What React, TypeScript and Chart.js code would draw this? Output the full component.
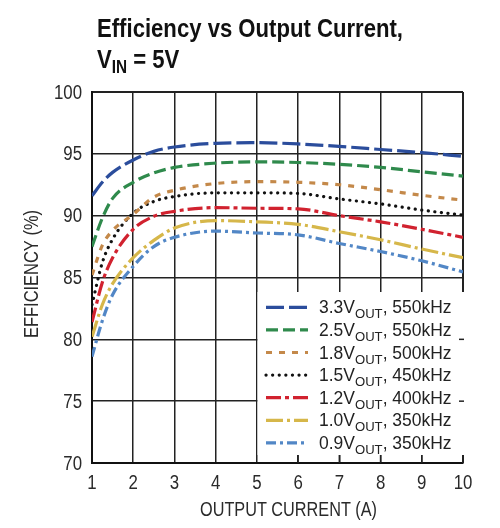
import { useEffect, useRef } from "react";
import { Chart, registerables } from "chart.js";
import type { Plugin } from "chart.js";

Chart.register(...registerables);

// output current (A)
const currents = [1, 1.25, 1.5, 2, 2.5, 3, 4, 5, 6, 7, 8, 9, 10];

// efficiency (%) per output
const eff33 = [91.6, 92.7, 93.5, 94.5, 95.2, 95.55, 95.85, 95.9, 95.8, 95.6, 95.35, 95.1, 94.8];
const eff25 = [87.5, 89.8, 91.4, 92.7, 93.45, 93.9, 94.25, 94.35, 94.3, 94.15, 93.9, 93.55, 93.2];
const eff18 = [85.2, 87.6, 88.8, 90.1, 91.5, 92.05, 92.6, 92.75, 92.7, 92.5, 92.1, 91.65, 91.25];
const eff15 = [82.8, 86.2, 88.1, 90.2, 91.15, 91.55, 91.85, 91.85, 91.8, 91.35, 90.95, 90.45, 90.05];
const eff12 = [81.4, 84.6, 86.6, 88.9, 89.95, 90.35, 90.65, 90.6, 90.55, 90.0, 89.5, 88.9, 88.25];
const eff10 = [80.2, 82.8, 84.5, 86.6, 88.0, 89.0, 89.6, 89.5, 89.3, 88.7, 88.05, 87.3, 86.6];
const eff09 = [78.6, 81.5, 83.6, 85.9, 87.5, 88.25, 88.75, 88.6, 88.45, 87.75, 87.1, 86.35, 85.45];

const voltages = ["3.3V", "2.5V", "1.8V", "1.5V", "1.2V", "1.0V", "0.9V"];
const freqs = ["550kHz", "550kHz", "500kHz", "450kHz", "400kHz", "350kHz", "350kHz"];
const series = [eff33, eff25, eff18, eff15, eff12, eff10, eff09];

const colors = ["#2b4d9c", "#2f8a4c", "#c4894a", "#111111", "#d1222f", "#d6b74a", "#5287c6"];
const dashes = [[18, 5], [12, 5], [6, 7], [0.1, 6.5], [15, 4, 4, 4], [17, 4, 3, 4], [10, 4, 3, 4]];
const caps: CanvasLineCap[] = ["butt", "butt", "butt", "round", "butt", "butt", "butt"];

const xTicks = [1, 2, 3, 4, 5, 6, 7, 8, 9, 10];
const yTicks = [70, 75, 80, 85, 90, 95, 100];

const FONT = '"Liberation Sans", Arial, sans-serif';
const NARROW = 0.82;

function scaledText(ctx: CanvasRenderingContext2D, text: string, x: number, y: number, sx: number) {
	ctx.save();
	ctx.translate(x, y);
	ctx.scale(sx, 1);
	ctx.fillText(text, 0, 0);
	ctx.restore();
	return ctx.measureText(text).width * sx;
}

const decorations: Plugin<"line"> = {
	id: "decorations",
	afterDraw(chart) {
		const ctx = chart.ctx;
		const xs = chart.scales.x;
		const ys = chart.scales.y;
		const area = chart.chartArea;
		ctx.save();
		ctx.textAlign = "left";
		ctx.textBaseline = "alphabetic";

		// title
		ctx.fillStyle = "#111";
		ctx.font = `bold 26px ${FONT}`;
		const line1 = "Efficiency vs Output Current,";
		const tsx = 306 / ctx.measureText(line1).width;
		scaledText(ctx, line1, 97, 37, tsx);
		let tx = 97;
		tx += scaledText(ctx, "V", tx, 68, tsx);
		ctx.font = `bold 18px ${FONT}`;
		tx += scaledText(ctx, "IN", tx, 73, tsx);
		ctx.font = `bold 26px ${FONT}`;
		scaledText(ctx, " = 5V", tx, 68, tsx);

		// tick labels
		ctx.fillStyle = "#2a2a2a";
		ctx.font = `20.5px ${FONT}`;
		ctx.textBaseline = "middle";
		ctx.textAlign = "right";
		yTicks.forEach((v) => {
			scaledText(ctx, String(v), 82, ys.getPixelForValue(v) + 1, NARROW);
		});
		ctx.textAlign = "center";
		ctx.textBaseline = "alphabetic";
		xTicks.forEach((v) => {
			scaledText(ctx, String(v), xs.getPixelForValue(v), area.bottom + 25.5, NARROW);
		});

		// axis titles
		ctx.font = `20px ${FONT}`;
		const yTitle = "EFFICIENCY (%)";
		const ysx = 128 / ctx.measureText(yTitle).width;
		ctx.save();
		ctx.translate(32, 274);
		ctx.rotate(-Math.PI / 2);
		ctx.textAlign = "center";
		ctx.textBaseline = "middle";
		scaledText(ctx, yTitle, 0, 0, ysx);
		ctx.restore();

		ctx.font = `21px ${FONT}`;
		const xTitle = "OUTPUT CURRENT (A)";
		const xsx = 177 / ctx.measureText(xTitle).width;
		ctx.textAlign = "center";
		scaledText(ctx, xTitle, 288.5, 516, xsx);
		ctx.textAlign = "left";

		// legend box
		const left = 257.5;
		const top = 292;
		const bottom = 455;
		ctx.fillStyle = "#fff";
		ctx.fillRect(left, top, 465 - left, bottom - top);
		ctx.strokeStyle = "#222";
		ctx.lineWidth = 1.5;
		yTicks.forEach((v) => {
			const py = ys.getPixelForValue(v);
			if (py > top && py < bottom) {
				ctx.beginPath();
				ctx.moveTo(459, py);
				ctx.lineTo(area.right + 1, py);
				ctx.stroke();
			}
		});
		xTicks.forEach((v) => {
			const px = xs.getPixelForValue(v);
			if (px > left) {
				ctx.lineWidth = v === 10 ? 2 : 1.5;
				ctx.beginPath();
				ctx.moveTo(px, bottom);
				ctx.lineTo(px, area.bottom);
				ctx.stroke();
			}
		});

		const first = voltages[0] + ", " + freqs[0];
		ctx.font = `18px ${FONT}`;
		const wMain = ctx.measureText(first).width;
		ctx.font = `13.5px ${FONT}`;
		const wSub = ctx.measureText("OUT").width;
		const lsx = 131 / (wMain + wSub);

		voltages.forEach((v, i) => {
			const base = 313.3 + i * 22.6;
			const ly = base - 6;
			ctx.strokeStyle = colors[i];
			ctx.lineWidth = 3.2;
			ctx.lineCap = caps[i];
			ctx.setLineDash(dashes[i]);
			ctx.beginPath();
			ctx.moveTo(266, ly);
			ctx.lineTo(308, ly);
			ctx.stroke();
			ctx.setLineDash([]);
			ctx.lineCap = "butt";

			ctx.fillStyle = "#222";
			let x = 319;
			ctx.font = `18px ${FONT}`;
			x += scaledText(ctx, v, x, base, lsx);
			ctx.font = `13.5px ${FONT}`;
			x += scaledText(ctx, "OUT", x, base + 5, lsx);
			ctx.font = `18px ${FONT}`;
			scaledText(ctx, ", " + freqs[i], x, base, lsx);
		});

		ctx.restore();
	},
};

export default function App() {
	const chartRef = useRef<HTMLCanvasElement>(null);
	const chartInstance = useRef<Chart | null>(null);

	useEffect(() => {
		if (!chartRef.current) return;
		if (chartInstance.current) chartInstance.current.destroy();
		const ctx = chartRef.current.getContext("2d");
		if (!ctx) return;

		chartInstance.current = new Chart(ctx, {
			type: "line",
			data: {
				datasets: series.map((arr, i) => ({
					label: voltages[i] + "OUT, " + freqs[i],
					data: currents.map((c, j) => ({ x: c, y: arr[j] })),
					borderColor: colors[i],
					borderWidth: 3.2,
					borderDash: dashes[i],
					borderCapStyle: caps[i],
					pointRadius: 0,
					fill: false,
					cubicInterpolationMode: "monotone" as const,
				})),
			},
			plugins: [decorations],
			options: {
				responsive: true,
				maintainAspectRatio: false,
				animation: false,
				layout: { padding: { top: 92, right: 37, left: 0, bottom: 0 } },
				plugins: {
					legend: { display: false },
					tooltip: { enabled: false },
				},
				scales: {
					x: {
						type: "linear",
						min: 1,
						max: 10,
						afterFit: (s) => {
							s.height = 65;
						},
						ticks: { stepSize: 1, display: false },
						grid: {
							color: "#222",
							lineWidth: (c) => (c.tick && c.tick.value === 10 ? 2 : 1.5),
							drawTicks: false,
						},
						border: { display: true, color: "#111", width: 2 },
					},
					y: {
						min: 70,
						max: 100,
						afterFit: (s) => {
							s.width = 92;
						},
						ticks: { stepSize: 5, display: false },
						grid: {
							color: "#222",
							lineWidth: (c) => (c.tick && c.tick.value === 100 ? 2 : 1.5),
							drawTicks: false,
						},
						border: { display: true, color: "#111", width: 2 },
					},
				},
			},
		});

		return () => {
			if (chartInstance.current) {
				chartInstance.current.destroy();
				chartInstance.current = null;
			}
		};
	}, []);

	return (
		<div style={{ position: "absolute", left: 0, top: 0, width: 500, height: 528, background: "#fff" }}>
			<canvas ref={chartRef} />
		</div>
	);
}
